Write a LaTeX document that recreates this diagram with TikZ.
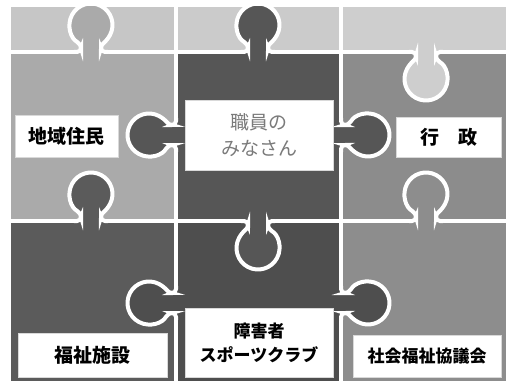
\documentclass[tikz,border=0pt]{standalone}
\usepackage{fontspec}
\newfontfamily\jp{Noto Sans CJK JP}
\definecolor{cTL}{HTML}{C6C6C6}
\definecolor{cTM}{HTML}{CBCBCB}
\definecolor{cTR}{HTML}{CECECE}
\definecolor{cML}{HTML}{AAAAAA}
\definecolor{cC}{HTML}{565656}
\definecolor{cMR}{HTML}{8C8C8C}
\definecolor{cBL}{HTML}{5B5B5B}
\definecolor{cBC}{HTML}{4E4E4E}
\definecolor{cBR}{HTML}{8D8D8D}
\definecolor{txtgray}{HTML}{7A7A7A}
\newcommand\kw{10}
\newcommand\kn{7.97}
\newcommand\kr{21.5}
\newcommand\knob[4]{%
  \begin{scope}[shift={(#1,#2)}, rotate=#3]
    \fill[#4, rounded corners=4] (-\kw-7,0) -- (-\kw,0) -- (-\kw,\kn) arc[start angle=242.28, end angle=-62.28, radius=\kr] -- (\kw,0) -- (\kw+7,0) -- (\kw+7,-4) -- (-\kw-7,-4) -- cycle;
    \draw[white, line width=4, line cap=round, rounded corners=4] (-\kw-7,0) -- (-\kw,0) -- (-\kw,\kn) arc[start angle=242.28, end angle=-62.28, radius=\kr] -- (\kw,0) -- (\kw+7,0);
  \end{scope}}
\tikzset{
  lbl/.style={fill=white, draw=black!15, line width=0.6, inner sep=0pt, align=center, font=\jp\bfseries\fontsize{19}{25}\selectfont, text=black},
}
\begin{document}
\begin{tikzpicture}[x=1pt, y=1pt]
\useasboundingbox (0,0) rectangle (506,381);
\fill[white] (0,0) rectangle (506,381);
\begin{scope}
\clip (11,0) rectangle (506,374);
% cells
\fill[cTL] (11,329) rectangle (176,374);
\fill[cTM] (176,329) rectangle (341,374);
\fill[cTR] (341,329) rectangle (506,374);
\fill[cML] (11,160) rectangle (176,329);
\fill[cC]  (176,160) rectangle (341,329);
\fill[cMR] (341,160) rectangle (506,329);
\fill[cBL] (11,0) rectangle (176,160);
\fill[cBC] (176,0) rectangle (341,160);
\fill[cBR] (341,0) rectangle (506,160);
% grid lines
\draw[white, line width=4] (11,329) -- (506,329);
\draw[white, line width=4] (11,160) -- (506,160);
\draw[white, line width=4] (176,0) -- (176,374);
\draw[white, line width=4] (341,0) -- (341,374);
% knobs
\knob{91}{329}{0}{cML}
\knob{258}{329}{0}{cC}
\knob{426}{329}{180}{cTR}
\knob{176}{246}{90}{cC}
\knob{341}{246}{-90}{cC}
\knob{91}{160}{0}{cBL}
\knob{258}{160}{180}{cC}
\knob{426}{160}{0}{cBR}
\knob{176}{78}{90}{cBC}
\knob{341}{78}{-90}{cBC}
\end{scope}
% labels
\node[lbl, minimum width=103, minimum height=42] (chiiki) at (66.5,245) {地域住民};
\node[lbl, minimum width=148, minimum height=70, text=txtgray, font=\jp\fontsize{19}{26}\selectfont] (shokuin) at (259,246) {職員の\\みなさん};
\node[lbl, minimum width=105, minimum height=40] (gyosei) at (448.5,244) {行　政};
\node[lbl, minimum width=149, minimum height=44] (fukushi) at (92.5,26) {福祉施設};
\node[lbl, minimum width=148, minimum height=69, font=\jp\bfseries\fontsize{17}{24}\selectfont] (shogai) at (259,38.5) {障害者\\スポーツクラブ};
\node[lbl, minimum width=148, minimum height=42, font=\jp\bfseries\fontsize{17}{24}\selectfont] (shakai) at (427,25) {社会福祉協議会};
\end{tikzpicture}
\end{document}
